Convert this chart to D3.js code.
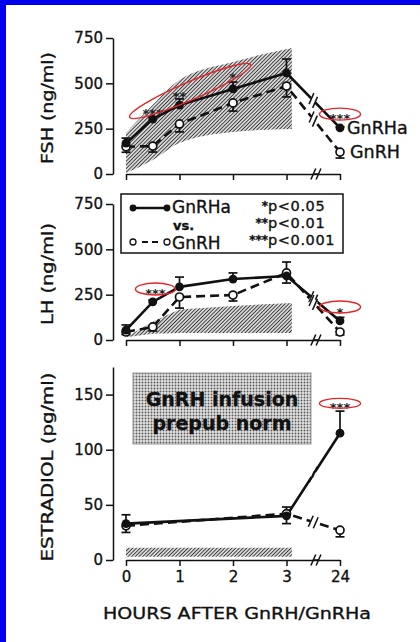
<!DOCTYPE html>
<html>
<head>
<meta charset="utf-8">
<title>GnRH vs GnRHa</title>
<script src="https://cdn.jsdelivr.net/npm/d3@7"></script>
<style>
  body { margin: 0; background: #fff; }
  svg { display: block; font-family: "DejaVu Sans", sans-serif; }
  text { stroke: #111; stroke-width: 0.35px; }
  .axis path, .axis line { stroke: #111; stroke-width: 1.5px; }
  .axis text { font-size: 15px; fill: #111; font-family: "DejaVu Sans", sans-serif; }
  .agonist { fill: none; stroke: #111; stroke-width: 2.6px; }
  .native { fill: none; stroke: #111; stroke-width: 2.6px; stroke-dasharray: 9,5; }
  .err { stroke: #111; stroke-width: 1.7px; }
  .ring { fill: none; stroke: #e3262a; stroke-width: 1.4px; }
  .stars { font-size: 13px; font-weight: bold; fill: #222; text-anchor: middle; stroke: none; }
</style>
</head>
<body>
<svg id="chart" width="420" height="642"></svg>
<script>

// sampling times (24 h is drawn after the axis break)
var hours = [0, 0.5, 1, 2, 3, 24];

var fshGnRHa    = [170, 303, 380, 469, 557, 254];
var fshGnRHaErr = [28, 10, 34, 38, 77, 6];
var fshGnRH     = [150, 154, 276, 392, 485, 121];
var fshGnRHErr  = [30, 33, 44, 45, 60, 33];

var lhGnRHa    = [55, 210, 293, 336, 353, 105];
var lhGnRHaErr = [28, 10, 54, 34, 77, 20];
var lhGnRH     = [44, 72, 237, 248, 370, 44];
var lhGnRHErr  = [14, 22, 61, 33, 56, 16];

var e2Hours    = [0, 3, 24];
var e2GnRHa    = [33, 40, 115];
var e2GnRHaErr = [8, 8, 20];
var e2GnRH     = [31, 42, 27];
var e2GnRHErr  = [6, 9, 6];

// prepubertal normal range during GnRH infusion (hatched)
var normHours   = [0, 0.5, 1, 2, 3.1];
var fshNormLow  = [5, 77, 171, 232, 248];
var fshNormHigh = [226, 380, 518, 618, 695];
var lhNormLow   = [15, 35, 38, 38, 38];
var lhNormHigh  = [15, 100, 168, 188, 204];
var e2NormHours = [0, 3.1];
var e2NormLow   = [3, 3];
var e2NormHigh  = [11, 11];

var xTickLabels = ["0", "1", "2", "3", "24"];

var svg = d3.select("#chart");

var defs = svg.append("defs");
var hatch = defs.append("pattern").attr("id", "hatch")
    .attr("width", 2.6).attr("height", 2.6)
    .attr("patternUnits", "userSpaceOnUse")
    .attr("patternTransform", "rotate(45)");
hatch.append("rect").attr("width", 2.6).attr("height", 2.6).attr("fill", "#d8d8d8");
hatch.append("line").attr("x1", 0).attr("y1", 0).attr("x2", 0).attr("y2", 2.6)
    .attr("stroke", "#1a1a1a").attr("stroke-width", 1.5);

var dots = defs.append("pattern").attr("id", "dots")
    .attr("width", 3).attr("height", 3)
    .attr("patternUnits", "userSpaceOnUse");
dots.append("rect").attr("width", 3).attr("height", 3).attr("fill", "#e2e2e2");
dots.append("circle").attr("cx", 1.5).attr("cy", 1.5).attr("r", 0.95).attr("fill", "#5a5a5a");

// frame edge
svg.append("rect").attr("x", 0).attr("y", 0).attr("width", 420).attr("height", 642).attr("fill", "#fff");
svg.append("rect").attr("x", 0).attr("y", 0).attr("width", 420).attr("height", 5).attr("fill", "#0000ee");
svg.append("rect").attr("x", 0).attr("y", 0).attr("width", 6).attr("height", 642).attr("fill", "#0000ee");

var x = d3.scaleLinear().domain([0, 4]).range([126, 340]);
function px(h) { return x(h === 24 ? 4 : h); }

function zip(hs, vs, es) {
  return hs.map(function(h, i) { return {h: h, v: vs[i], e: es ? es[i] : 0}; });
}

var panels = [
  {
    name: "FSH (ng/ml)", labelLen: 112,
    y: d3.scaleLinear().domain([0, 750]).range([174, 38]),
    ticks: [0, 250, 500, 750],
    agonist: zip(hours, fshGnRHa, fshGnRHaErr),
    native: zip(hours, fshGnRH, fshGnRHErr),
    norm: normHours.map(function(h, i) { return {h: h, lo: fshNormLow[i], hi: fshNormHigh[i]}; }),
    curve: d3.curveMonotoneX
  },
  {
    name: "LH (ng/ml)", labelLen: 102,
    y: d3.scaleLinear().domain([0, 750]).range([340, 204]),
    ticks: [0, 250, 500, 750],
    agonist: zip(hours, lhGnRHa, lhGnRHaErr),
    native: zip(hours, lhGnRH, lhGnRHErr),
    norm: normHours.map(function(h, i) { return {h: h, lo: lhNormLow[i], hi: lhNormHigh[i]}; }),
    curve: d3.curveLinear
  },
  {
    name: "ESTRADIOL (pg/ml)", labelLen: 189,
    y: d3.scaleLinear().domain([0, 175]).range([560, 367]),
    ticks: [0, 50, 100, 150],
    agonist: zip(e2Hours, e2GnRHa, e2GnRHaErr),
    native: zip(e2Hours, e2GnRH, e2GnRHErr),
    norm: e2NormHours.map(function(h, i) { return {h: h, lo: e2NormLow[i], hi: e2NormHigh[i]}; }),
    curve: d3.curveLinear,
    showX: true
  }
];

function breakMark(g, p1, p2, t) {
  var mx = p1[0] + (p2[0] - p1[0]) * t, my = p1[1] + (p2[1] - p1[1]) * t;
  var len = Math.hypot(p2[0] - p1[0], p2[1] - p1[1]);
  var ux = (p2[0] - p1[0]) / len, uy = (p2[1] - p1[1]) / len;
  g.append("line")
      .attr("x1", mx - ux * 3).attr("y1", my - uy * 3)
      .attr("x2", mx + ux * 3).attr("y2", my + uy * 3)
      .attr("stroke", "#fff").attr("stroke-width", 7);
  [-2.6, 2.6].forEach(function(o) {
    var cx = mx + ux * o, cy = my + uy * o;
    g.append("line")
        .attr("x1", cx - 2.4).attr("y1", cy + 5.5)
        .attr("x2", cx + 2.4).attr("y2", cy - 5.5)
        .attr("stroke", "#111").attr("stroke-width", 1.5);
  });
}

panels.forEach(function(p) {
  var g = svg.append("g");
  var y = p.y;

  // normal range
  g.append("path")
      .datum(p.norm)
      .attr("fill", "url(#hatch)")
      .attr("d", d3.area().curve(p.curve)
          .x(function(d) { return px(d.h); })
          .y0(function(d) { return y(d.lo); })
          .y1(function(d) { return y(d.hi); }));

  // y axis
  g.append("g").attr("class", "axis")
      .attr("transform", "translate(113,0)")
      .call(d3.axisLeft(y).tickValues(p.ticks).tickSize(7).tickSizeOuter(0).tickPadding(3));

  // x axis
  var xa = g.append("g").attr("class", "axis")
      .attr("transform", "translate(0," + y(0) + ")")
      .call(d3.axisBottom(x).tickValues([0, 1, 2, 3, 4]).tickSize(6).tickSizeOuter(0).tickPadding(5)
          .tickFormat(function(d, i) { return p.showX ? xTickLabels[i] : ""; }));
  breakMark(xa, [x(3), 0], [x(4), 0], 0.55);

  var line = d3.line().x(function(d) { return px(d.h); }).y(function(d) { return y(d.v); });

  g.append("path").datum(p.native).attr("class", "native").attr("d", line);
  g.append("path").datum(p.agonist).attr("class", "agonist").attr("d", line);

  [p.agonist, p.native].forEach(function(s) {
    var n = s.length;
    breakMark(g, [px(s[n - 2].h), y(s[n - 2].v)], [px(s[n - 1].h), y(s[n - 1].v)], 0.5);
  });

  // error bars: agonist upwards, native downwards
  function errBars(data, dir) {
    var eb = g.append("g").selectAll("g").data(data).enter().append("g");
    eb.append("line").attr("class", "err")
        .attr("x1", function(d) { return px(d.h); })
        .attr("x2", function(d) { return px(d.h); })
        .attr("y1", function(d) { return y(d.v); })
        .attr("y2", function(d) { return y(d.v + dir * d.e); });
    eb.append("line").attr("class", "err")
        .attr("x1", function(d) { return px(d.h) - 4.5; })
        .attr("x2", function(d) { return px(d.h) + 4.5; })
        .attr("y1", function(d) { return y(d.v + dir * d.e); })
        .attr("y2", function(d) { return y(d.v + dir * d.e); });
  }
  errBars(p.native, -1);
  errBars(p.agonist, 1);

  g.append("g").selectAll("circle").data(p.native).enter().append("circle")
      .attr("cx", function(d) { return px(d.h); })
      .attr("cy", function(d) { return y(d.v); })
      .attr("r", 4)
      .attr("fill", "#fff").attr("stroke", "#111").attr("stroke-width", 1.7);
  g.append("g").selectAll("circle").data(p.agonist).enter().append("circle")
      .attr("cx", function(d) { return px(d.h); })
      .attr("cy", function(d) { return y(d.v); })
      .attr("r", 4.4)
      .attr("fill", "#111");

  // y label
  var cy = (y.range()[0] + y.range()[1]) / 2;
  g.append("text")
      .attr("transform", "translate(53," + (p.showX ? 467 : cy + 2) + ") rotate(-90)")
      .attr("text-anchor", "middle")
      .attr("font-size", 16)
      .attr("fill", "#111")
      .attr("textLength", p.labelLen)
      .attr("lengthAdjust", "spacingAndGlyphs")
      .text(p.name);
});

// significance marks
var fsh = panels[0].y, lh = panels[1].y, e2 = panels[2].y;
var starMarks = [
  {txt: "***", x: px(0.5), y: fsh(353)},
  {txt: "**",  x: px(1),   y: fsh(447)},
  {txt: "*",   x: px(2),   y: fsh(552)},
  {txt: "***", x: px(24),  y: fsh(325)},
  {txt: "***", x: px(0.55), y: lh(276)},
  {txt: "*",   x: px(24),  y: lh(171)},
  {txt: "***", x: px(24),  y: e2(141)}
];
svg.append("g").selectAll("text").data(starMarks).enter().append("text")
    .attr("class", "stars")
    .attr("x", function(d) { return d.x; })
    .attr("y", function(d) { return d.y + 8; })
    .text(function(d) { return d.txt; });

var rings = [
  {x: px(1.2), y: fsh(458), rx: 66, ry: 9, a: -23.5},
  {x: px(24),  y: fsh(330), rx: 20.5, ry: 6, a: 0},
  {x: px(0.55), y: lh(281), rx: 20, ry: 6, a: 0},
  {x: px(24),  y: lh(182), rx: 20.5, ry: 6, a: 0},
  {x: px(24),  y: e2(142), rx: 20.5, ry: 5, a: 0}
];
svg.append("g").selectAll("ellipse").data(rings).enter().append("ellipse")
    .attr("class", "ring")
    .attr("rx", function(d) { return d.rx; })
    .attr("ry", function(d) { return d.ry; })
    .attr("transform", function(d) { return "translate(" + d.x + "," + d.y + ") rotate(" + d.a + ")"; });

// series names at the 24 h points
svg.append("text").attr("x", 347).attr("y", fsh(254) + 6).attr("font-size", 17.5).attr("fill", "#111").text("GnRHa");
svg.append("text").attr("x", 350).attr("y", fsh(121) + 6).attr("font-size", 17.5).attr("fill", "#111").text("GnRH");

// legend
var lg = svg.append("g");
lg.append("rect").attr("x", 121).attr("y", 194).attr("width", 222).attr("height", 59)
    .attr("fill", "#fff").attr("stroke", "#111").attr("stroke-width", 1.5);
lg.append("line").attr("class", "agonist").attr("x1", 133).attr("x2", 167).attr("y1", 208).attr("y2", 208);
[133, 167].forEach(function(cx) {
  lg.append("circle").attr("cx", cx).attr("cy", 208).attr("r", 3.4).attr("fill", "#111");
});
lg.append("line").attr("x1", 137).attr("x2", 164).attr("y1", 242).attr("y2", 242)
    .attr("stroke", "#111").attr("stroke-width", 2).attr("stroke-dasharray", "0,5,6,4,6,6");
[133, 167].forEach(function(cx) {
  lg.append("circle").attr("cx", cx).attr("cy", 242).attr("r", 3).attr("fill", "#fff")
      .attr("stroke", "#111").attr("stroke-width", 1.3);
});
lg.append("text").attr("x", 172).attr("y", 213).attr("font-size", 17).attr("fill", "#111").text("GnRHa");
lg.append("text").attr("x", 173).attr("y", 230).attr("font-size", 13).attr("font-weight", "bold").attr("fill", "#111").text("vs.");
lg.append("text").attr("x", 172).attr("y", 249).attr("font-size", 17).attr("fill", "#111").text("GnRH");

var sigLevels = [["*", "p<0.05"], ["**", "p<0.01"], ["***", "p<0.001"]];
sigLevels.forEach(function(s, i) {
  var by = 211 + i * 17;
  lg.append("text").attr("x", 268).attr("y", by - 1).attr("text-anchor", "end")
      .attr("font-size", 12).attr("font-weight", "bold").attr("fill", "#111").attr("stroke", "none").text(s[0]);
  lg.append("text").attr("x", 268).attr("y", by).attr("font-size", 14.5).attr("fill", "#111")
      .attr("letter-spacing", 0.6).text(s[1]);
});

// estradiol note box
var nb = svg.append("g");
nb.append("rect").attr("x", 133).attr("y", 373).attr("width", 178).attr("height", 71)
    .attr("fill", "url(#dots)").attr("stroke", "#999").attr("stroke-width", 1);
nb.append("text").attr("x", 222).attr("y", 406).attr("text-anchor", "middle")
    .attr("font-size", 19).attr("font-weight", "bold").attr("fill", "#111").text("GnRH infusion");
nb.append("text").attr("x", 222).attr("y", 430).attr("text-anchor", "middle")
    .attr("font-size", 19).attr("font-weight", "bold").attr("fill", "#111").text("prepub norm");

// x title
svg.append("text").attr("x", 237).attr("y", 619).attr("text-anchor", "middle")
    .attr("font-size", 16).attr("fill", "#111")
    .attr("textLength", 268).attr("lengthAdjust", "spacingAndGlyphs")
    .text("HOURS AFTER GnRH/GnRHa");

</script>
</body>
</html>
